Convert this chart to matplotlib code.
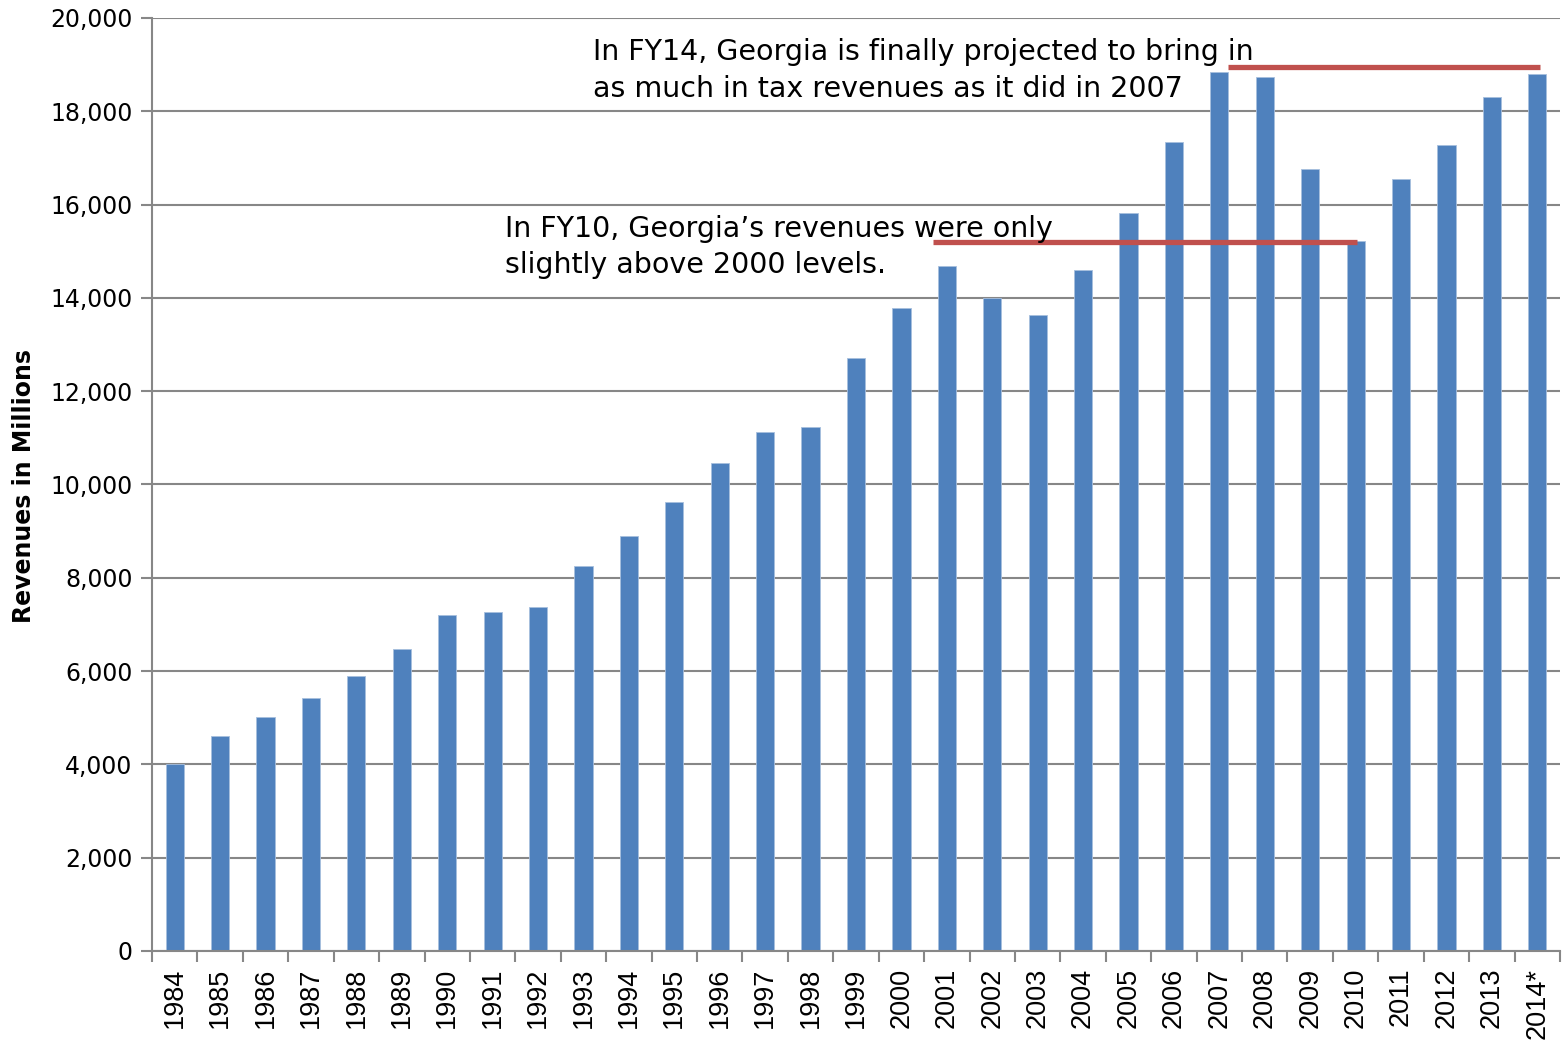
import matplotlib.pyplot as plt

# Recettes fiscales de la Géorgie (millions)
years = ['1984', '1985', '1986', '1987', '1988', '1989', '1990', '1991', '1992',
         '1993', '1994', '1995', '1996', '1997', '1998', '1999', '2000', '2001',
         '2002', '2003', '2004', '2005', '2006', '2007', '2008', '2009', '2010',
         '2011', '2012', '2013', '2014*']
revenues = [4010, 4610, 5020, 5420, 5900, 6470, 7200, 7270, 7370,
            8250, 8900, 9620, 10460, 11130, 11230, 12710, 13780, 14680,
            14000, 13630, 14600, 15820, 17340, 18840, 18740, 16760, 15220,
            16550, 17280, 18310, 18800]
y_ticks = list(range(0, 20001, 2000))

# Lignes de repère (niveau, début, fin en index de catégorie)
ref_fy10 = (15200, 16.7, 26.03)
ref_fy14 = (18950, 23.19, 30.06)

note_fy14 = ["In FY14, Georgia is finally projected to bring in",
             "as much in tax revenues as it did in 2007"]
note_fy10 = ["In FY10, Georgia\u2019s revenues were only",
             "slightly above 2000 levels."]

bar_color = '#4F81BD'
red = '#C0504D'
grid_color = '#878787'

W, H = 1568, 1044
fig = plt.figure(figsize=(W / 100, H / 100), dpi=100)
ax = fig.add_axes([152 / W, 1 - 951 / H, 1408 / W, 933 / H])

x = list(range(len(years)))
ax.bar(x, revenues, width=0.4, color=bar_color, edgecolor='#A7BFDE', linewidth=0.6, zorder=2)

ax.set_xlim(-0.5, len(years) - 0.5)
ax.set_ylim(0, 20000)
ax.set_yticks(y_ticks)
ax.set_yticklabels([f'{v:,}' for v in y_ticks], fontsize=17, family='DejaVu Sans')
ax.yaxis.grid(True, color=grid_color, linewidth=1.5, zorder=0)
ax.set_axisbelow(True)

# ticks majeurs entre les catégories, étiquettes sur les mineurs
ax.set_xticks([i - 0.5 for i in range(len(years) + 1)])
ax.set_xticklabels([])
ax.set_xticks(x, minor=True)
ax.set_xticklabels(years, minor=True, rotation=90, fontsize=19.5, family='Liberation Sans')
ax.tick_params(axis='x', which='major', length=8, width=1.5, color=grid_color)
ax.tick_params(axis='x', which='minor', length=0, pad=12)
ax.tick_params(axis='y', length=8, width=1.5, color=grid_color, pad=6)

for side in ['top', 'right']:
    ax.spines[side].set_visible(False)
for side in ['left', 'bottom']:
    ax.spines[side].set_color(grid_color)
    ax.spines[side].set_linewidth(1.5)

fig.text(24 / W, 1 - 486 / H, 'Revenues in Millions', fontsize=17, fontweight='bold',
         rotation=90, ha='center', va='center')

for level, x0, x1 in [ref_fy10, ref_fy14]:
    ax.plot([x0, x1], [level, level], color=red, linewidth=3.8, zorder=3, solid_capstyle='butt')

# annotations, une ligne à la fois (positions des lignes de base en pixels)
for line, base in zip(note_fy14, [60, 97]):
    fig.text(593 / W, 1 - base / H, line, fontsize=20.5, va='baseline', ha='left')
for line, base in zip(note_fy10, [237, 273]):
    fig.text(505 / W, 1 - base / H, line, fontsize=20.5, va='baseline', ha='left')

fig.savefig('out.png', dpi=100)
